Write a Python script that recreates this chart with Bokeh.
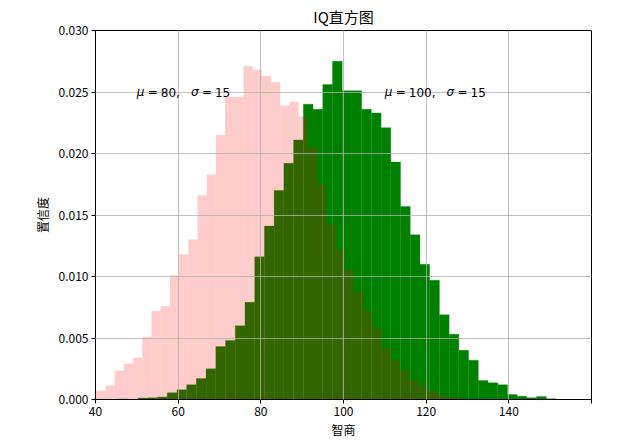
from bokeh.plotting import figure
from bokeh.models import Label, FixedTicker, Range1d
from bokeh.embed import file_html
from bokeh.resources import INLINE

# ---- data ----
pink_first_edge = 37.96
pink_bin_width = 2.226
pink_density = [0.0006, 0.00073, 0.00114, 0.00236, 0.0029, 0.0034, 0.0051, 0.0072,
                0.0076, 0.0101, 0.0118, 0.0130, 0.0166, 0.0183, 0.0215, 0.0246,
                0.0246, 0.0271, 0.0268, 0.0263, 0.0258, 0.0239, 0.0242, 0.0230,
                0.0205, 0.0175, 0.0142, 0.0122, 0.0105, 0.0088, 0.0072, 0.0058,
                0.0042, 0.0032, 0.0024, 0.0016, 0.0011, 0.0007, 0.0004, 0.0002,
                0.0001]

green_first_edge = 45.59
green_bin_width = 2.352
green_density = [0.00005, 0.0, 0.00012, 0.00014, 0.0002, 0.00054, 0.0008, 0.0012,
                 0.0017, 0.0025, 0.0043, 0.0048, 0.0060, 0.0079, 0.0116, 0.0141,
                 0.0170, 0.0192, 0.0211, 0.0240, 0.0236, 0.0256, 0.0275, 0.0251,
                 0.0251, 0.0236, 0.0233, 0.0221, 0.0193, 0.0157, 0.0134, 0.0110,
                 0.0097, 0.0069, 0.0053, 0.0040, 0.0032, 0.00154, 0.00136, 0.0012,
                 0.00041, 0.00027, 0.00014, 0.00024, 0.00006]

x_ticks = [40, 60, 80, 100, 120, 140, 160]
y_ticks = [0.0, 0.005, 0.010, 0.015, 0.020, 0.025, 0.030]
annotations = [(50, 0.025, "80", "15"), (110, 0.025, "100", "15")]

title_text = "IQ直方图"
x_label = "智商"
y_label = "置信度"

# ---- build ----
def edges(first, width, n):
    left = [first + i * width for i in range(n)]
    right = [first + (i + 1) * width for i in range(n)]
    return left, right

CJK = "Noto Sans CJK SC"

p = figure(width=630, height=448, output_backend="svg", toolbar_location=None,
           x_range=Range1d(40, 160), y_range=Range1d(0, 0.03),
           min_border_left=95, min_border_right=39, min_border_top=30,
           min_border_bottom=49)

p.title.text = title_text
p.title.align = "center"
p.title.text_font = CJK
p.title.text_font_size = "15px"
p.title.text_font_style = "normal"
p.title.text_color = "black"
p.title.standoff = 7

gl, gr = edges(green_first_edge, green_bin_width, len(green_density))
p.quad(left=gl, right=gr, bottom=0, top=green_density,
       fill_color="green", line_color="green", line_width=0.3)

pl, pr = edges(pink_first_edge, pink_bin_width, len(pink_density))
p.quad(left=pl, right=pr, bottom=0, top=pink_density,
       fill_color="red", fill_alpha=0.2, line_color=None)

for g in (p.xgrid, p.ygrid):
    g.grid_line_color = "#b0b0b0"
    g.grid_line_width = 0.8
    g.level = "guide"

p.xaxis.ticker = FixedTicker(ticks=x_ticks)
p.yaxis.ticker = FixedTicker(ticks=y_ticks)
p.xaxis.major_label_overrides = {160: ""}
p.yaxis.major_label_overrides = {v: f"{v:.3f}" for v in y_ticks}

for ax in (p.xaxis, p.yaxis):
    ax.axis_line_color = "black"
    ax.major_tick_line_color = "black"
    ax.major_tick_in = 0
    ax.major_tick_out = 4
    ax.minor_tick_line_color = None
    ax.major_label_text_font = CJK
    ax.major_label_text_font_size = "12px"
    ax.major_label_text_color = "black"
    ax.axis_label_text_font = CJK
    ax.axis_label_text_font_size = "12px"
    ax.axis_label_text_font_style = "normal"
    ax.axis_label_text_color = "black"
    ax.major_label_standoff = 3

p.xaxis.axis_label = x_label
p.yaxis.axis_label = y_label
p.xaxis.axis_label_standoff = 2
p.yaxis.axis_label_standoff = 5

p.outline_line_color = "black"
p.outline_line_width = 1
p.outline_line_alpha = 1

FS = 12
DIG = 0.636 * FS
COMMA = 0.318 * FS


def add_text(x, y, off, txt, style):
    p.add_layout(Label(x=x, y=y, x_offset=off, text=txt, text_font="DejaVu Sans",
                       text_font_size=f"{FS}px", text_font_style=style,
                       text_color="black", text_baseline="alphabetic"))


for (ax_, ay_, mu, sg) in annotations:
    off = 0.0
    add_text(ax_, ay_, off, "μ", "italic")
    add_text(ax_, ay_, off + 11, "=", "normal")
    off_num = off + 24
    add_text(ax_, ay_, off_num, mu + ",", "normal")
    off_sig = off_num + len(mu) * DIG + COMMA + 11
    add_text(ax_, ay_, off_sig, "σ", "italic")
    add_text(ax_, ay_, off_sig + 11, "=", "normal")
    add_text(ax_, ay_, off_sig + 24, sg, "normal")

open("out.html", "w").write(file_html(p, INLINE))
